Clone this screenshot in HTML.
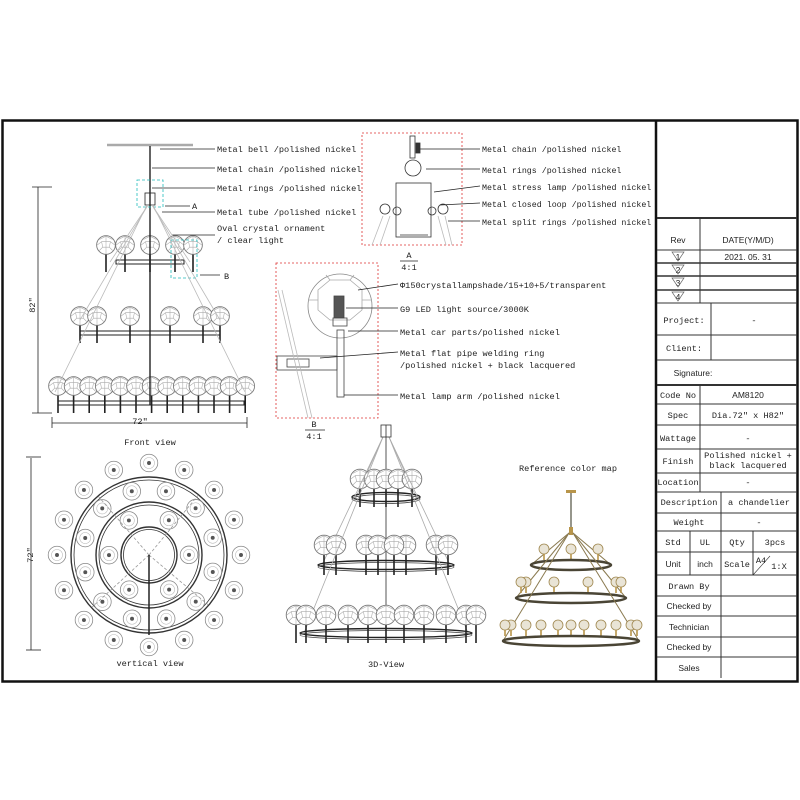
<!DOCTYPE html>
<html><head><meta charset="utf-8"><style>
html,body{margin:0;padding:0;background:#fff;}
svg{display:block;}
text{font-family:"Liberation Mono","WenQuanYi Zen Hei",monospace;font-size:8.6px;fill:#222;}
.s{font-family:"Liberation Sans",sans-serif;font-size:8.5px;}
.a{font-size:8.3px;}
</style></head><body>
<svg id="sv" width="800" height="800" viewBox="0 0 800 800" xmlns="http://www.w3.org/2000/svg">
<defs>
<g id="gl"><circle r="8.5" fill="#fff" stroke="#777" stroke-width="0.8"/><path d="M-6,-5 L0,-8 L6,-5 M-8,0 L-4,-3 L4,-3 L8,0 M-6,5 L-3,2 L3,2 L6,5 M0,-8 L0,8 M-4,-3 L-3,2 M4,-3 L3,2" stroke="#aaa" stroke-width="0.5" fill="none"/></g>
<g id="tv"><circle r="8" fill="#fff" stroke="#888" stroke-width="0.7"/><circle r="5" fill="none" stroke="#bbb" stroke-width="0.5"/><circle r="1.8" fill="#555"/></g>
<g id="cg"><circle r="5" fill="#e9e4d6" stroke="#a08850" stroke-width="0.8"/><line x1="0" y1="5" x2="0" y2="11" stroke="#b8954a" stroke-width="1.6"/></g>
</defs>
<rect x="2.5" y="120.5" width="795" height="561" fill="none" stroke="#111" stroke-width="2.5"/>
<line x1="656" y1="120" x2="656" y2="682" stroke="#111" stroke-width="2.5"/>
<g id="dyn"></g>

<!-- title block -->
<g stroke="#333" stroke-width="1" fill="none">
<line x1="657" y1="218" x2="797" y2="218" stroke-width="2"/>
<line x1="657" y1="250" x2="797" y2="250"/><line x1="657" y1="263" x2="797" y2="263" stroke-width="1.6"/>
<line x1="657" y1="276" x2="797" y2="276" stroke-width="1.6"/><line x1="657" y1="290" x2="797" y2="290" stroke-width="1.6"/>
<line x1="657" y1="303" x2="797" y2="303"/><line x1="657" y1="335" x2="797" y2="335"/><line x1="657" y1="360" x2="797" y2="360"/>
<line x1="657" y1="385" x2="797" y2="385" stroke-width="2"/>
<line x1="700" y1="218" x2="700" y2="303"/><line x1="711" y1="303" x2="711" y2="360"/>
<line x1="657" y1="404" x2="797" y2="404"/><line x1="657" y1="425" x2="797" y2="425"/><line x1="657" y1="449" x2="797" y2="449"/>
<line x1="657" y1="473" x2="797" y2="473"/><line x1="657" y1="492" x2="797" y2="492"/><line x1="657" y1="513" x2="797" y2="513"/>
<line x1="657" y1="531" x2="797" y2="531"/><line x1="657" y1="552" x2="797" y2="552"/><line x1="657" y1="575" x2="797" y2="575"/>
<line x1="657" y1="596" x2="797" y2="596"/><line x1="657" y1="616" x2="797" y2="616"/><line x1="657" y1="637" x2="797" y2="637"/>
<line x1="657" y1="657" x2="797" y2="657"/>
<line x1="700" y1="385" x2="700" y2="492"/><line x1="721" y1="492" x2="721" y2="678"/>
<line x1="690" y1="531" x2="690" y2="575"/><line x1="753" y1="531" x2="753" y2="575"/>
<line x1="753" y1="575" x2="770" y2="556" stroke-width="0.6"/>
</g>
<g font-size="8" text-anchor="middle">
<text x="678" y="243" class="s">Rev</text><text x="748" y="243" class="s">DATE(Y/M/D)</text>
<text x="748" y="260" class="s">2021. 05. 31</text>
<text x="678" y="260" class="s">1</text><text x="678" y="273" class="s">2</text><text x="678" y="286" class="s">3</text><text x="678" y="300" class="s">4</text>
<text x="684" y="323">Project:</text><text x="754" y="323">-</text>
<text x="684" y="351">Client:</text>
<text x="693" y="376" class="s">Signature:</text>
<text x="678" y="398">Code No</text><text x="748" y="398" class="s">AM8120</text>
<text x="678" y="418">Spec</text><text x="748" y="418">Dia.72" x H82"</text>
<text x="678" y="441">Wattage</text><text x="748" y="441">-</text>
<text x="678" y="464">Finish</text><text x="748" y="458" font-size="7.8">Polished nickel +</text><text x="748" y="468" font-size="7.8">black lacquered</text>
<text x="678" y="485">Location</text><text x="748" y="485">-</text>
<text x="689" y="505">Description</text><text x="759" y="505">a chandelier</text>
<text x="689" y="525">Weight</text><text x="759" y="525">-</text>
<text x="673" y="545">Std</text><text x="705" y="545">UL</text><text x="737" y="545">Qty</text><text x="775" y="545">3pcs</text>
<text x="673" y="567" class="s">Unit</text><text x="705" y="567" class="s">inch</text><text x="737" y="567">Scale</text><text x="761" y="563" font-size="7">A4</text><text x="779" y="569">1:X</text>
<text x="689" y="589">Drawn By</text><text x="689" y="609" class="s">Checked by</text><text x="689" y="630" class="s">Technician</text>
<text x="689" y="650" class="s">Checked by</text><text x="689" y="671" class="s">Sales</text>
</g>
<g fill="none" stroke="#666" stroke-width="0.7">
<path d="M672,252 L684,252 L678,261Z"/><path d="M672,265 L684,265 L678,274Z"/><path d="M672,278 L684,278 L678,287Z"/><path d="M672,292 L684,292 L678,301Z"/>
</g>

<!-- front view labels -->
<g stroke="#222" stroke-width="0.8">
<line x1="160" y1="149" x2="215" y2="149"/><line x1="152" y1="168" x2="215" y2="168"/>
<line x1="152" y1="188" x2="215" y2="188"/><line x1="162" y1="212" x2="215" y2="212"/>
<line x1="172" y1="235" x2="215" y2="235"/><line x1="165" y1="206" x2="190" y2="206"/><line x1="200" y1="275" x2="220" y2="275"/>
</g>
<text x="217" y="152">Metal bell /polished nickel</text>
<text x="217" y="172">Metal chain /polished nickel</text>
<text x="217" y="191">Metal rings /polished nickel</text>
<text x="217" y="215">Metal tube /polished nickel</text>
<text x="217" y="231">Oval crystal ornament</text>
<text x="217" y="243">/ clear light</text>
<text x="192" y="209">A</text><text x="224" y="279">B</text>
<text x="150" y="445" text-anchor="middle">Front view</text>
<text x="140" y="424" text-anchor="middle">72"</text>
<text transform="translate(35,305) rotate(-90)" text-anchor="middle">82"</text>
<text transform="translate(33,555) rotate(-90)" text-anchor="middle">72"</text>
<text x="150" y="666" text-anchor="middle">vertical view</text>
<text x="386" y="667" text-anchor="middle">3D-View</text>
<text x="568" y="471" text-anchor="middle">Reference color map</text>

<!-- detail A labels -->
<rect x="362" y="133" width="100" height="112" fill="none" stroke="#d33" stroke-width="0.8" stroke-dasharray="2,2"/>
<g stroke="#222" stroke-width="0.8">
<line x1="418" y1="149" x2="480" y2="149"/><line x1="426" y1="169" x2="480" y2="169"/>
<line x1="434" y1="192" x2="480" y2="186"/><line x1="440" y1="205" x2="480" y2="203"/><line x1="448" y1="221" x2="480" y2="221"/>
<line x1="400" y1="261" x2="418" y2="261"/><line x1="305" y1="430" x2="325" y2="430"/>
</g>
<text x="482" y="152" class="a">Metal chain /polished nickel</text>
<text x="482" y="173" class="a">Metal rings /polished nickel</text>
<text x="482" y="190" class="a">Metal stress lamp /polished nickel</text>
<text x="482" y="207" class="a">Metal closed loop /polished nickel</text>
<text x="482" y="225" class="a">Metal split rings /polished nickel</text>
<text x="409" y="258" text-anchor="middle">A</text><text x="409" y="270" text-anchor="middle">4:1</text>
<g fill="none" stroke="#333" stroke-width="0.8">
<rect x="396" y="183" width="35" height="54"/><line x1="400" y1="235" x2="428" y2="235"/>
<circle cx="413" cy="168" r="8"/><rect x="410" y="136" width="5" height="22"/><rect x="416" y="143" width="4" height="10" fill="#333"/>
<circle cx="385" cy="209" r="5"/><circle cx="397" cy="211" r="4"/><circle cx="432" cy="211" r="4"/><circle cx="443" cy="209" r="5"/>
<path d="M372,245 L383,216 M380,245 L390,216 M445,216 L452,245 M438,216 L446,245" stroke="#bbb"/>
</g>

<!-- detail B -->
<rect x="276" y="263" width="102" height="155" fill="none" stroke="#d33" stroke-width="0.8" stroke-dasharray="2,2"/>
<g fill="none" stroke="#444" stroke-width="0.8">
<circle cx="340" cy="306" r="32" stroke="#888"/>
<path d="M318,290 L330,280 L350,280 L362,290 L362,310 L350,320 L330,320 L318,310Z M308,300 L318,300 M362,300 L372,300 M330,280 L326,275 M350,280 L354,275" stroke="#aaa"/>
<rect x="334" y="296" width="10" height="22" fill="#555"/><rect x="333" y="318" width="14" height="8"/>
<rect x="337" y="330" width="7" height="67"/>
<rect x="277" y="356" width="60" height="14"/><rect x="287" y="359" width="22" height="8"/>
<path d="M278,290 L308,418" stroke="#bbb"/><path d="M282,290 L312,418" stroke="#bbb"/>
</g>
<g stroke="#222" stroke-width="0.8">
<line x1="358" y1="290" x2="398" y2="284"/><line x1="346" y1="308" x2="398" y2="308"/>
<line x1="348" y1="331" x2="398" y2="331"/><line x1="320" y1="358" x2="398" y2="352"/><line x1="344" y1="395" x2="398" y2="395"/>
</g>
<text x="400" y="288">Φ150crystallampshade/15+10+5/transparent</text>
<text x="400" y="312">G9 LED light source/3000K</text>
<text x="400" y="335">Metal car parts/polished nickel</text>
<text x="400" y="356">Metal flat pipe welding ring</text>
<text x="400" y="368">/polished nickel + black lacquered</text>
<text x="400" y="399">Metal lamp arm /polished nickel</text>
<text x="314" y="427" text-anchor="middle">B</text><text x="314" y="439" text-anchor="middle">4:1</text>

<!-- front view fixed parts -->
<g stroke="#222" fill="none">
<line x1="107" y1="145" x2="193" y2="145" stroke="#aaa" stroke-width="2.5"/>
<line x1="150" y1="146" x2="150" y2="405" stroke-width="1.4"/>
<rect x="145" y="193" width="10" height="12" stroke-width="0.8"/>
<line x1="38" y1="187" x2="38" y2="413" stroke-width="0.8"/><line x1="32" y1="187" x2="52" y2="187" stroke-width="0.8"/><line x1="32" y1="413" x2="52" y2="413" stroke-width="0.8"/>
<line x1="52" y1="423" x2="247" y2="423" stroke-width="0.8"/><line x1="52" y1="417" x2="52" y2="428" stroke-width="0.8"/><line x1="247" y1="417" x2="247" y2="428" stroke-width="0.8"/>
<line x1="31" y1="458" x2="31" y2="650" stroke-width="0.8"/><line x1="26" y1="457" x2="41" y2="457" stroke-width="0.8"/><line x1="26" y1="650" x2="41" y2="650" stroke-width="0.8"/>
</g>
<g fill="none" stroke="#2bb" stroke-width="0.8" stroke-dasharray="3,2">
<rect x="137" y="180" width="26" height="27"/><rect x="171" y="240" width="26" height="38"/>
</g>
<g fill="none" stroke="#bbb" stroke-width="0.8">
<path d="M148,205 L80,320 M152,205 L220,320 M147,205 L55,392 M153,205 L245,392 M148,205 L110,262 M152,205 L190,262"/>
</g>
</svg>
<script>
var NS="http://www.w3.org/2000/svg",d=document.getElementById("dyn");
function el(t,a){var e=document.createElementNS(NS,t);for(var k in a)e.setAttribute(k,a[k]);d.appendChild(e);return e;}
function use(id,x,y,s){el("use",{href:"#"+id,transform:"translate("+x+","+y+")"+(s?" scale("+s+")":"")});}
function tier(y,x1,x2,xs){el("rect",{x:x1,y:y-2,width:x2-x1,height:4,fill:"#fff",stroke:"#222","stroke-width":1});
 xs.forEach(function(x){el("line",{x1:x,y1:y-12,x2:x,y2:y+10,stroke:"#222","stroke-width":1.6});use("gl",x,y-17,1.1);});}
tier(262,116,184,[106,125,150,175,193]);
tier(333,80,220,[80,97,130,170,203,220]);
var b=[];for(var i=0;i<13;i++)b.push(58+i*15.6);tier(403,58,244,b);
var cx=149,cy=555;
[[78,1.4],[75,0.8],[53,1.4],[50,0.8],[28,1.4],[25.5,0.8]].forEach(function(r){el("circle",{cx:cx,cy:cy,r:r[0],fill:"none",stroke:"#333","stroke-width":r[1]});});
function ring(n,R,o){for(var i=0;i<n;i++){var a=o+i*2*Math.PI/n;use("tv",cx+R*Math.cos(a),cy+R*Math.sin(a),1.1);}}
ring(16,92,-Math.PI/2);ring(12,66,-Math.PI/2+0.26);ring(6,40,-Math.PI/2+0.52);
[0.7,2.4,4.0,5.4].forEach(function(a){el("line",{x1:cx,y1:cy,x2:cx+77*Math.cos(a),y2:cy+77*Math.sin(a),stroke:"#999","stroke-width":0.8,"stroke-dasharray":"3,2"});});
el("line",{x1:cx,y1:cy,x2:cx,y2:cy+80,stroke:"#222","stroke-width":1.5});
var tx=386;el("line",{x1:tx,y1:425,x2:tx,y2:633,stroke:"#555","stroke-width":1});
[[497,30,479,[-26,-12,0,12,26]],[565,64,545,[-62,-50,-20,20,50,62,-8,8]],[633,82,615,[-90,-80,-60,-38,-18,0,18,38,60,80,90]]].forEach(function(t){
 el("line",{x1:tx-3,y1:437,x2:tx-t[1],y2:t[0],stroke:"#aaa","stroke-width":0.8});el("line",{x1:tx+3,y1:437,x2:tx+t[1],y2:t[0],stroke:"#aaa","stroke-width":0.8});
 el("ellipse",{cx:tx,cy:t[0],rx:t[1]+4,ry:4.5,fill:"none",stroke:"#222","stroke-width":1.4});
 el("ellipse",{cx:tx,cy:t[0]+2,rx:t[1]+4,ry:4.5,fill:"none",stroke:"#444","stroke-width":0.8});
 t[3].forEach(function(o){var x=tx+o;el("line",{x1:x,y1:t[2]+6,x2:x,y2:t[0]+10,stroke:"#222","stroke-width":1.6});use("gl",x,t[2],1.15);});});
el("rect",{x:tx-5,y:425,width:10,height:12,fill:"none",stroke:"#333","stroke-width":0.8});
var mx=571;el("line",{x1:mx,y1:493,x2:mx,y2:530,stroke:"#6a6a5a","stroke-width":1.4});
el("rect",{x:mx-5,y:490,width:10,height:3,fill:"#b8954a"});el("rect",{x:mx-2,y:527,width:4,height:8,fill:"#b8954a"});
[[565,40,[-27,0,27]],[598,55,[-45,-17,17,45,-50,50]],[641,68,[-60,-45,-30,-13,0,13,30,45,60,-66,66]]].forEach(function(t){
 el("line",{x1:mx-2,y1:533,x2:mx-t[1],y2:t[0],stroke:"#8a7a50","stroke-width":1});el("line",{x1:mx+2,y1:533,x2:mx+t[1],y2:t[0],stroke:"#8a7a50","stroke-width":1});
 t[2].forEach(function(o){el("use",{href:"#cg",transform:"translate("+(mx+o)+","+(t[0]-16)+")"});});
 el("ellipse",{cx:mx,cy:t[0],rx:t[1],ry:5,fill:"none",stroke:"#4a4535","stroke-width":2.5});});
</script>
</body></html>
